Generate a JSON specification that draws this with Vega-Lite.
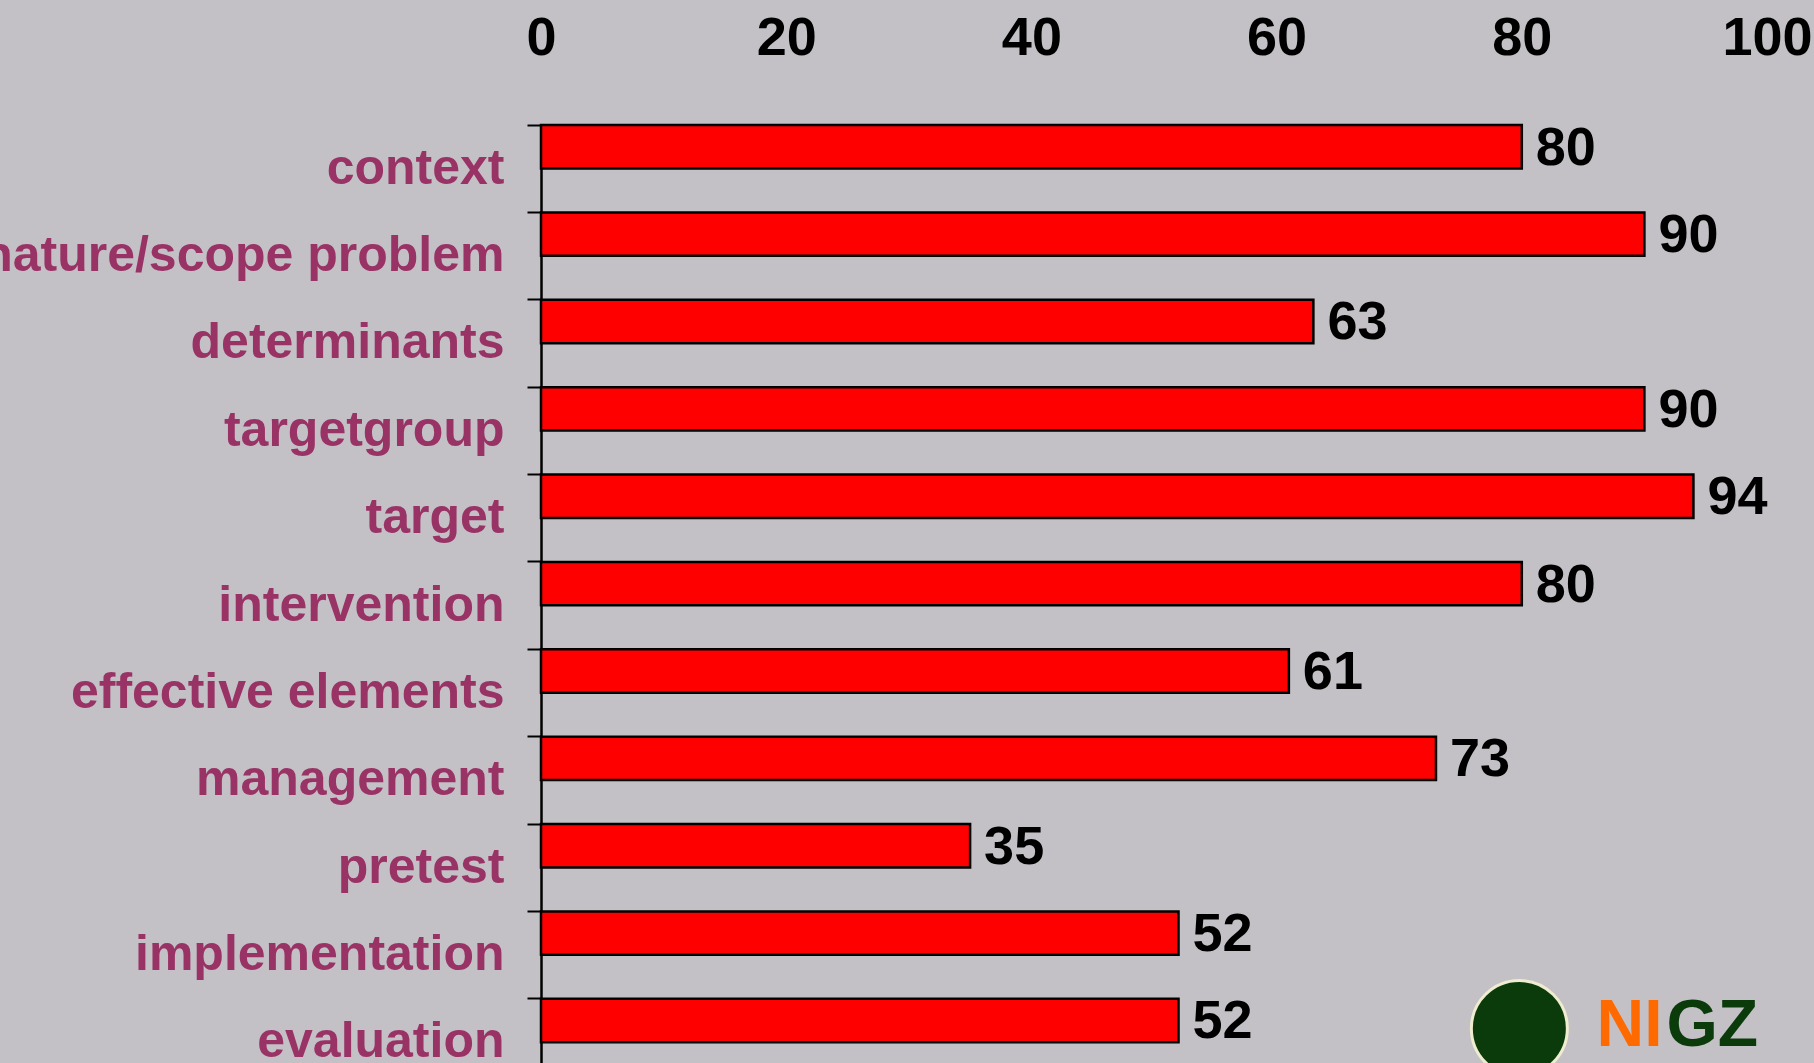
{
  "$schema": "https://vega.github.io/schema/vega-lite/v6.json",
  "autosize": "none",
  "padding": {"left": 541, "top": 125, "right": 47, "bottom": 0},
  "width": 1226,
  "height": 938,
  "background": "#c4c1c6",
  "config": {
    "view": {"stroke": null},
    "font": "Liberation Sans"
  },
  "datasets": {
    "main": [
      {"category": "context", "value": 80},
      {"category": "nature/scope problem", "value": 90},
      {"category": "determinants", "value": 63},
      {"category": "targetgroup", "value": 90},
      {"category": "target", "value": 94},
      {"category": "intervention", "value": 80},
      {"category": "effective elements", "value": 61},
      {"category": "management", "value": 73},
      {"category": "pretest", "value": 35},
      {"category": "implementation", "value": 52},
      {"category": "evaluation", "value": 52}
    ],
    "logo": [
      {"category": "evaluation", "pos": 79.8, "part": "globe"},
      {"category": "evaluation", "pos": 86.1, "part": "NI"},
      {"category": "evaluation", "pos": 91.8, "part": "GZ"}
    ]
  },
  "layer": [
    {
      "data": {"name": "main"},
      "mark": {"type": "bar", "color": "#ff0000", "stroke": "#000000", "strokeWidth": 2.5},
      "encoding": {
        "y": {
          "field": "category", "type": "nominal", "sort": null,
          "scale": {"paddingInner": 0.503, "paddingOuter": 0.119, "align": 0},
          "axis": {
            "title": null,
            "orient": "left",
            "bandPosition": 0,
            "labelOffset": 22,
            "labelFont": "Liberation Sans",
            "labelFontSize": 50,
            "labelFontWeight": "bold",
            "labelColor": "#993366",
            "labelPadding": 23,
            "labelLimit": 0,
            "tickSize": 14,
            "tickWidth": 2,
            "tickColor": "#000000",
            "domainColor": "#000000",
            "domainWidth": 2.5
          }
        },
        "x": {
          "field": "value", "type": "quantitative",
          "scale": {"domain": [0, 100], "nice": false},
          "axis": {
            "title": null,
            "orient": "top",
            "values": [0, 20, 40, 60, 80, 100],
            "grid": false,
            "domain": false,
            "ticks": false,
            "labelFont": "Liberation Sans",
            "labelFontSize": 54,
            "labelFontWeight": "bold",
            "labelColor": "#000000",
            "labelPadding": 60,
            "labelFlush": false,
            "labelOverlap": false
          }
        }
      }
    },
    {
      "data": {"name": "main"},
      "mark": {"type": "text", "align": "left", "baseline": "middle", "dx": 14, "dy": 2, "fontSize": 54, "fontWeight": "bold", "color": "#000000", "font": "Liberation Sans"},
      "encoding": {
        "y": {"field": "category", "type": "nominal", "sort": null},
        "x": {"field": "value", "type": "quantitative"},
        "text": {"field": "value", "type": "quantitative"}
      }
    },
    {
      "data": {"name": "logo"},
      "transform": [{"filter": "datum.part === 'globe'"}],
      "mark": {"type": "point", "shape": "circle", "filled": true, "color": "#0b3b0b", "stroke": "#efeccf", "strokeWidth": 3, "opacity": 1, "size": 9216, "yOffset": 8},
      "encoding": {
        "y": {"field": "category", "type": "nominal", "sort": null},
        "x": {"field": "pos", "type": "quantitative"}
      }
    },
    {
      "data": {"name": "logo"},
      "transform": [{"filter": "datum.part !== 'globe'"}],
      "mark": {"type": "text", "align": "left", "baseline": "middle", "fontSize": 66, "fontWeight": "bold", "font": "Liberation Sans", "yOffset": 6},
      "encoding": {
        "y": {"field": "category", "type": "nominal", "sort": null},
        "x": {"field": "pos", "type": "quantitative"},
        "text": {"field": "part", "type": "nominal"},
        "color": {"field": "part", "type": "nominal", "scale": {"domain": ["NI", "GZ"], "range": ["#ff6a00", "#0b3b0b"]}, "legend": null}
      }
    }
  ]
}
